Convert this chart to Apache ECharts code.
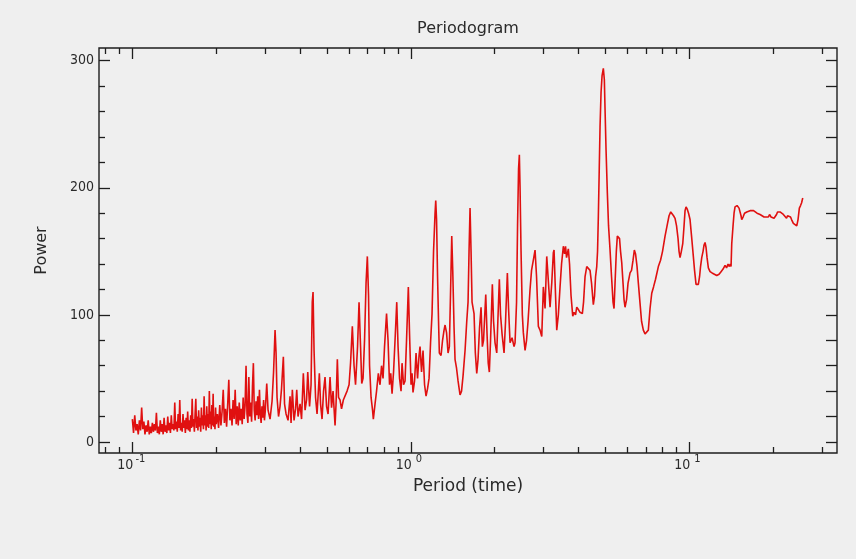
<!DOCTYPE html>
<html><head><meta charset="utf-8">
<script src="https://cdn.jsdelivr.net/npm/echarts@6/dist/echarts.min.js"></script>
<style>html,body{margin:0;padding:0;background:#efefef}#c{width:856px;height:559px}</style>
</head><body><div id="c"></div>
<script>
// Period values (time units)
const periods = [
 0.100,0.101,0.102,0.103,0.104,0.105,0.106,0.107,0.108,0.109,
 0.110,0.111,0.112,0.113,0.114,0.115,0.116,0.117,0.118,0.119,
 0.120,0.121,0.122,0.123,0.124,0.125,0.126,0.127,0.128,0.129,
 0.130,0.131,0.132,0.133,0.134,0.135,0.136,0.137,0.138,0.139,
 0.140,0.141,0.142,0.143,0.144,0.145,0.146,0.147,0.148,0.149,
 0.150,0.151,0.152,0.153,0.154,0.155,0.156,0.157,0.158,0.159,
 0.160,0.161,0.162,0.163,0.164,0.165,0.166,0.167,0.168,0.169,
 0.170,0.171,0.172,0.173,0.174,0.175,0.176,0.177,0.178,0.179,
 0.180,0.181,0.182,0.183,0.184,0.185,0.186,0.187,0.188,0.189,
 0.190,0.191,0.192,0.193,0.194,0.195,0.196,0.197,0.198,0.199,
 0.200,
 0.202,0.204,0.206,0.208,0.210,0.212,0.214,0.216,0.218,0.220,
 0.222,0.224,0.226,0.228,0.230,0.232,0.234,0.236,0.238,0.240,
 0.242,0.244,0.246,0.248,0.250,0.252,0.254,0.256,0.258,0.260,
 0.262,0.264,0.266,0.268,0.270,0.272,0.274,0.276,0.278,0.280,
 0.282,0.284,0.286,0.288,0.290,0.292,0.294,0.296,0.298,0.300,
 0.3038,0.3071,0.3122,0.3174,0.3214,0.3254,0.3281,0.3308,0.3349,0.3391,
 0.3433,0.3485,0.3519,0.3564,0.3623,0.3683,0.3714,0.3754,0.3807,0.3855,
 0.3893,0.3935,0.4001,0.4051,0.4111,0.4170,0.4222,0.4264,0.4328,0.4382,
 0.4426,0.4455,0.4492,0.4548,0.4605,0.4693,0.4740,0.4799,0.4859,0.4919,
 0.4981,0.5043,0.5127,0.5191,0.5256,0.5344,0.5388,0.5446,0.5500,0.5569,
 0.5638,0.5723,0.5804,0.5901,0.6000,0.6074,0.6165,0.6253,0.6330,0.6436,
 0.6516,0.6598,0.6663,0.6735,0.6819,0.6905,0.6979,0.7049,0.7108,0.7197,
 0.7286,0.7334,0.7438,0.7531,0.7644,0.7751,0.7849,0.7946,0.8045,0.8180,
 0.8282,0.8385,0.8469,0.8561,0.8667,0.8775,0.8900,0.8996,0.9108,0.9222,
 0.9298,0.9414,0.9532,0.9650,0.9795,0.9893,1.0017,1.0100,1.0180,1.0311,
 1.0439,1.0570,1.0702,1.0790,1.0925,1.1060,1.1200,1.1340,1.1481,1.1624,
 1.1769,1.1916,1.2065,1.2215,1.2286,1.2368,1.2471,1.2573,1.2657,1.2837,
 1.2997,1.3159,1.3270,1.3434,1.3602,1.3748,1.3860,1.4024,1.4140,1.4293,
 1.4410,1.4591,1.4773,1.5020,1.5207,1.5397,1.5654,1.5876,1.6047,1.6180,
 1.6315,1.6450,1.6587,1.6862,1.7045,1.7244,1.7430,1.7648,1.7868,1.8061,
 1.8241,1.8577,1.8776,1.8963,1.9137,1.9328,1.9618,1.9813,2.0060,2.0344,
 2.0531,2.0786,2.0994,2.1256,2.1610,2.1881,2.2210,2.2431,2.2711,2.3087,
 2.3474,2.3668,2.3963,2.4163,2.4364,2.4525,2.4668,2.4871,2.5141,2.5348,
 2.5708,2.6029,2.6354,2.6791,2.7126,2.7533,2.7924,2.8273,2.8697,2.9102,
 2.9515,2.9907,3.0331,3.0759,3.1171,3.1611,3.2059,3.2484,3.2673,3.3027,
 3.3411,3.3857,3.4335,3.4764,3.5286,3.5637,3.5931,3.6230,3.6773,3.7140,
 3.7603,3.8136,3.8547,3.9029,3.9420,4.0009,4.0508,4.1288,4.1699,4.2219,
 4.2816,4.3458,4.3997,4.4549,4.5215,4.5669,4.6049,4.6504,4.6815,4.7122,
 4.7481,4.7792,4.8191,4.8588,4.9113,4.9524,4.9807,5.0222,5.0766,5.1272,
 5.1912,5.2559,5.3215,5.3655,5.4101,5.4683,5.5139,5.5599,5.6151,5.6619,
 5.7184,5.7798,5.8279,5.8766,5.9498,6.0240,6.1245,6.2007,6.2781,6.3463,
 6.4094,6.4894,6.5600,6.6523,6.7353,6.8367,6.9328,7.0316,7.1246,7.2258,
 7.3281,7.4377,7.5622,7.7393,7.8812,8.0123,8.1802,8.3163,8.4555,8.5747,
 8.6678,8.7760,8.8853,8.9963,9.1086,9.1838,9.2600,9.3609,9.4697,9.5720,
 9.6518,9.7308,9.8370,9.9349,10.058,10.184,10.336,10.440,10.570,10.773,
 10.881,10.970,11.080,11.200,11.293,11.387,11.481,11.577,11.702,11.868,
 12.066,12.266,12.544,12.784,12.997,13.214,13.434,13.603,13.773,13.921,
 14.037,14.118,14.198,14.352,14.472,14.591,14.835,15.081,15.207,15.333,
 15.422,15.589,15.783,16.075,16.313,16.517,16.753,17.002,17.216,17.501,
 17.719,17.943,18.241,18.547,18.853,19.218,19.405,19.648,19.893,20.141,
 20.313,20.565,20.734,20.875,21.168,21.432,21.755,22.061,22.336,22.522,
 22.804,23.089,23.282,23.631,23.962,24.304,24.564,24.833,25.078,25.287,
 25.540
];
// Power values, aligned with periods
const powers = [
 18,7,21,9,14,6,17,9,27,10,
 16,6,13,8,17,6,12,7,15,8,
 14,9,23,7,12,6,17,8,14,6,
 19,8,13,7,20,9,15,7,21,10,
 14,9,31,10,16,8,22,11,33,9,
 15,8,22,11,17,7,19,10,24,9,
 17,8,21,11,34,12,18,8,22,34,
 11,20,9,25,12,19,8,27,13,21,
 10,36,13,21,9,28,12,22,11,40,
 14,24,10,29,13,38,12,20,10,27,
 14,
 22,11,29,13,24,41,15,26,12,30,
 49,17,26,13,33,18,41,14,28,13,
 31,17,26,14,35,18,29,60,22,15,
 51,20,31,16,44,62,25,17,32,21,
 36,18,41,22,15,28,19,33,17,24,
 46,25,18,32,55,88,70,35,20,28,
 42,67,30,22,17,36,15,41,17,26,
 41,20,30,18,54,25,33,55,28,45,
 110,118,72,35,22,54,30,18,40,51,
 28,22,51,27,40,13,30,65,35,33,
 26,33,32,40,45,62,91,60,45,75,
 110,75,46,50,80,125,146,115,60,35,
 25,18,30,40,54,45,60,50,75,101,
 80,45,54,38,55,80,110,75,50,40,
 62,45,48,80,122,85,45,54,39,48,
 70,50,68,75,55,72,45,36,42,50,
 78,101,150,180,190,175,130,95,70,68,
 80,88,92,86,70,75,110,162,135,90,
 65,58,48,37,40,52,72,95,110,150,
 184,150,110,101,70,54,65,90,106,75,
 80,116,85,62,55,80,124,95,78,70,
 95,128,100,85,70,95,133,105,78,82,
 75,78,110,170,215,226,200,150,100,86,
 72,80,95,120,135,143,151,130,91,88,
 83,122,105,146,147,106,125,149,151,120,
 88,100,122,140,154,148,154,145,152,140,
 115,99,102,100,106,104,102,101,110,130,
 138,137,135,125,108,115,130,138,150,177,
 215,248,275,288,294,285,262,230,196,170,
 151,130,110,105,125,150,162,163,160,150,
 141,125,112,106,112,125,133,135,143,151,
 148,138,125,109,95,88,85,86,88,105,
 117,122,128,138,143,150,162,170,178,181,
 182,178,176,170,160,150,145,150,156,170,
 182,185,183,180,175,162,146,135,124,124,
 130,138,145,150,155,157,153,145,137,134,
 133,132,131,132,134,136,139,137,140,138,
 140,138,156,170,180,185,186,184,184,178,
 175,177,180,181,182,182,183,182,181,180,
 180,179,178,177,177,177,179,177,177,176,
 177,179,181,181,181,180,179,178,176,178,
 179,177,175,172,171,170,175,184,186,188,
 192
];
const xMajorTicks = [0.1, 1, 10];
const xMajorExponents = ['-1', '0', '1'];
const xMinorTicks = [0.08,0.09,0.2,0.3,0.4,0.5,0.6,0.7,0.8,0.9,2,3,4,5,6,7,8,9,20,30];
const yMajorTicks = [0, 100, 200, 300];
const yMajorLabels = ['0', '100', '200', '300'];
const yMinorTicks = [20,40,60,80,120,140,160,180,220,240,260,280];
const yRightTicks = [0,20,40,60,80,100,120,140,160,180,200,220,240,260,280,300];

const frame = '#1e1e1e';
const txt = '#2a2a2a';
const numFont = '"DejaVu Sans Condensed", "DejaVu Sans", sans-serif';
const nameFont = '"DejaVu Sans", sans-serif';
const X_MIN = 0.0759, X_MAX = 33.9, Y_MIN = -8.7, Y_MAX = 310;

function xa(position, ticks, len, extra) {
  return Object.assign({
    type: 'log', logBase: 10, position: position, min: X_MIN, max: X_MAX,
    axisLine: { show: false, onZero: false },
    axisTick: { show: true, inside: true, length: len, customValues: ticks,
      lineStyle: { color: frame, width: 1.3 } },
    axisLabel: { show: false },
    splitLine: { show: false }, minorTick: { show: false }, minorSplitLine: { show: false }
  }, extra || {});
}
function ya(position, ticks, len, extra) {
  return Object.assign({
    type: 'value', position: position, min: Y_MIN, max: Y_MAX,
    axisLine: { show: false, onZero: false },
    axisTick: { show: true, inside: true, length: len, customValues: ticks,
      lineStyle: { color: frame, width: 1.3 } },
    axisLabel: { show: false },
    splitLine: { show: false }, minorTick: { show: false }, minorSplitLine: { show: false }
  }, extra || {});
}

const chart = echarts.init(document.getElementById('c'), null, { renderer: 'canvas' });
chart.setOption({
  animation: false,
  backgroundColor: '#efefef',
  grid: { left: 99, right: 19, top: 48, bottom: 106, show: true,
    borderColor: frame, borderWidth: 1.4, backgroundColor: 'transparent' },
  xAxis: [
    xa('bottom', xMajorTicks, 11, {
      axisLabel: {
        show: true, customValues: xMajorTicks, margin: 1,
        formatter: function (v) {
          let i = 0, best = Infinity;
          xMajorTicks.forEach(function (t, k) { const d = Math.abs(Math.log(t) - Math.log(v)); if (d < best) { best = d; i = k; } });
          return '{b|10}{s|' + xMajorExponents[i] + '}';
        },
        rich: {
          b: { fontSize: 14, fontFamily: numFont, color: txt, lineHeight: 22, verticalAlign: 'middle' },
          s: { fontSize: 11, fontFamily: numFont, color: txt, lineHeight: 11, width: 14, align: 'left', verticalAlign: 'top' }
        }
      },
      name: 'Period (time)', nameLocation: 'middle', nameGap: 25,
      nameTextStyle: { fontSize: 17, fontFamily: nameFont, color: txt }
    }),
    xa('bottom', xMinorTicks, 6),
    xa('top', xMajorTicks, 11, {
      name: 'Periodogram', nameLocation: 'middle', nameGap: 11,
      nameTextStyle: { fontSize: 16, fontFamily: nameFont, color: txt }
    }),
    xa('top', xMinorTicks, 6)
  ],
  yAxis: [
    ya('left', yMajorTicks, 11, {
      axisLabel: {
        show: true, customValues: yMajorTicks, margin: 5,
        fontSize: 14, fontFamily: numFont, color: txt,
        formatter: function (v) { const i = yMajorTicks.indexOf(Math.round(v)); return i >= 0 ? yMajorLabels[i] : ''; }
      },
      name: 'Power', nameLocation: 'middle', nameGap: 49,
      nameTextStyle: { fontSize: 16, fontFamily: nameFont, color: txt }
    }),
    ya('left', yMinorTicks, 6),
    ya('right', yRightTicks, 11)
  ],
  series: [{
    type: 'line', xAxisIndex: 0, yAxisIndex: 0,
    data: periods.map(function (p, i) { return [p, powers[i]]; }),
    showSymbol: false, symbol: 'none',
    lineStyle: { color: '#e01010', width: 1.6 },
    clip: true
  }]
});
</script></body></html>
